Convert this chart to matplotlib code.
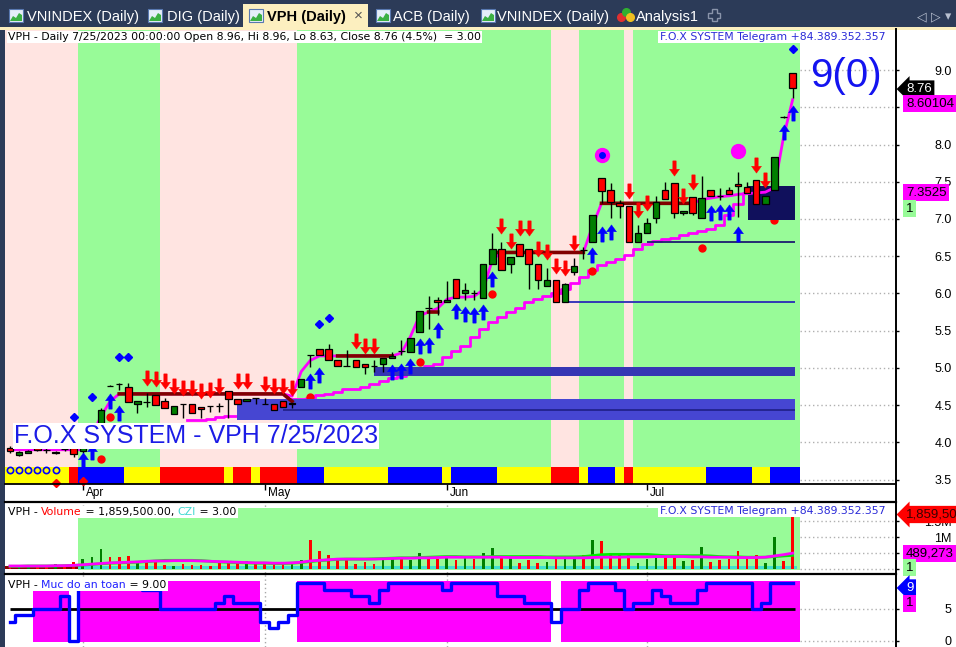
import numpy as np
import matplotlib
matplotlib.use("Agg")
import matplotlib.pyplot as plt
import matplotlib.transforms as mtrans
from matplotlib.patches import Rectangle, Polygon
from matplotlib.lines import Line2D
from matplotlib.path import Path

plt.rcParams["font.family"] = ["Liberation Sans", "DejaVu Sans"]

# ---------------- data ----------------
# one entry per trading session, 22 Mar 2023 .. 25 Jul 2023
opens = [3.92, 3.83, 3.86, 3.92, 3.89, 3.85, 3.91, 3.93, 3.88, 4.02, 4.22, 4.76, 4.78, 4.74, 4.51,
         4.54, 4.63, 4.55, 4.38, 4.51, 4.51, 4.47, 4.49, 4.49, 4.69, 4.58, 4.55, 4.60, 4.51, 4.52,
         4.56, 4.51, 4.74, 5.17, 5.25, 5.25, 5.10, 5.02, 5.10, 5.05, 5.02, 5.05, 5.13, 5.22, 5.21,
         5.48, 5.80, 5.91, 5.88, 6.20, 6.00, 6.00, 5.94, 6.39, 6.59, 6.39, 6.67, 6.60, 6.39, 6.10,
         6.18, 5.88, 6.29, 6.58, 6.69, 7.55, 7.39, 7.21, 7.17, 6.69, 6.81, 7.01, 7.39, 7.48, 7.08,
         7.29, 7.01, 7.39, 7.31, 7.39, 7.47, 7.43, 7.52, 7.20, 7.39, 8.37, 8.96]
highs = [3.95, 3.88, 3.90, 3.95, 3.92, 3.88, 3.94, 3.94, 4.02, 4.25, 4.46, 4.77, 4.80, 4.80, 4.55,
         4.66, 4.63, 4.59, 4.49, 4.51, 4.51, 4.47, 4.49, 4.53, 4.69, 4.58, 4.58, 4.60, 4.59, 4.52,
         4.56, 4.53, 4.85, 5.17, 5.25, 5.32, 5.10, 5.24, 5.10, 5.05, 5.10, 5.13, 5.21, 5.38, 5.40,
         5.77, 5.96, 5.95, 6.17, 6.20, 6.14, 6.04, 6.39, 6.81, 6.69, 6.49, 6.67, 6.60, 6.39, 6.34,
         6.18, 6.14, 6.47, 6.62, 7.05, 7.55, 7.48, 7.25, 7.17, 6.92, 7.01, 7.31, 7.49, 7.48, 7.11,
         7.29, 7.58, 7.39, 7.42, 7.43, 7.63, 7.49, 7.52, 7.31, 7.83, 8.38, 8.96]
lows = [3.85, 3.82, 3.85, 3.88, 3.86, 3.84, 3.88, 3.80, 3.86, 4.00, 4.20, 4.75, 4.70, 4.54, 4.39,
        4.47, 4.50, 4.46, 4.38, 4.33, 4.39, 4.33, 4.41, 4.41, 4.33, 4.51, 4.55, 4.52, 4.51, 4.43,
        4.47, 4.46, 4.74, 5.01, 5.17, 5.10, 5.02, 5.02, 5.01, 4.92, 4.94, 4.94, 5.13, 5.17, 5.21,
        5.48, 5.52, 5.71, 5.88, 5.94, 5.91, 5.91, 5.94, 6.39, 6.31, 6.27, 6.50, 6.06, 6.06, 6.10,
        5.88, 5.88, 6.25, 6.46, 6.69, 7.21, 7.01, 7.01, 6.69, 6.69, 6.81, 6.94, 7.27, 7.01, 7.05,
        7.05, 7.01, 7.31, 7.25, 7.33, 7.03, 7.35, 7.20, 7.20, 7.39, 8.36, 8.63]
closes = [3.88, 3.87, 3.88, 3.90, 3.89, 3.87, 3.91, 3.84, 3.99, 4.22, 4.44, 4.76, 4.78, 4.54, 4.55,
          4.54, 4.50, 4.46, 4.49, 4.51, 4.39, 4.45, 4.49, 4.49, 4.58, 4.51, 4.58, 4.60, 4.51, 4.43,
          4.47, 4.53, 4.85, 5.17, 5.17, 5.10, 5.02, 5.02, 5.01, 5.01, 5.02, 5.13, 5.16, 5.22, 5.40,
          5.77, 5.80, 5.88, 5.91, 5.94, 6.04, 6.00, 6.39, 6.59, 6.31, 6.49, 6.50, 6.39, 6.18, 6.18,
          5.88, 6.12, 6.37, 6.58, 7.05, 7.38, 7.23, 7.17, 6.69, 6.81, 6.94, 7.23, 7.27, 7.08, 7.11,
          7.08, 7.28, 7.31, 7.31, 7.33, 7.44, 7.35, 7.20, 7.31, 7.83, 8.37, 8.76]
volume_m = [0.06, 0.05, 0.07, 0.05, 0.06, 0.14, 0.08, 0.20,
            0.30, 0.37, 0.62, 0.36, 0.36, 0.40, 0.24, 0.22, 0.25,
            0.11, 0.08, 0.14, 0.11, 0.10, 0.08, 0.16, 0.21, 0.21, 0.24, 0.21,
            0.16, 0.16, 0.16, 0.21,
            0.27, 0.91, 0.56, 0.43, 0.30, 0.27, 0.15, 0.20, 0.15, 0.30,
            0.30, 0.30, 0.26, 0.50, 0.40, 0.30, 0.36, 0.28, 0.36, 0.30, 0.49, 0.65,
            0.36, 0.33, 0.17, 0.27, 0.17, 0.20,
            0.37, 0.33, 0.30, 0.43, 0.91, 0.88, 0.48, 0.43, 0.48,
            0.17, 0.30, 0.33, 0.38, 0.44, 0.24, 0.27, 0.69,
            0.21, 0.27, 0.30, 0.56, 0.38, 0.44, 0.19, 1.00, 0.23, 1.8595]
vol_ma_green = [0.07, 0.07, 0.08, 0.08, 0.08, 0.08, 0.09, 0.10, 0.11, 0.13, 0.15, 0.17, 0.18, 0.19,
                0.20, 0.22, 0.24, 0.26, 0.26, 0.26, 0.26, 0.25, 0.23, 0.21, 0.20, 0.19, 0.18, 0.17,
                0.17, 0.16, 0.16, 0.17, 0.19, 0.22, 0.25, 0.27, 0.29, 0.30, 0.30, 0.30, 0.31, 0.32,
                0.33, 0.34, 0.34, 0.35, 0.36, 0.37, 0.38, 0.38, 0.37, 0.37, 0.37, 0.38, 0.38, 0.38,
                0.38, 0.38, 0.38, 0.37, 0.37, 0.37, 0.37, 0.38, 0.41, 0.44, 0.45, 0.45, 0.45, 0.45,
                0.45, 0.43, 0.41, 0.41, 0.41, 0.41, 0.41, 0.40, 0.38, 0.37, 0.37, 0.36, 0.36, 0.36,
                0.38, 0.40, 0.42]
vol_ma_pink = [0.08, 0.08, 0.08, 0.08, 0.08, 0.09, 0.09, 0.10, 0.12, 0.14, 0.16, 0.18, 0.19, 0.20,
               0.21, 0.23, 0.24, 0.24, 0.25, 0.25, 0.25, 0.24, 0.23, 0.22, 0.21, 0.20, 0.19, 0.18,
               0.18, 0.17, 0.17, 0.18, 0.20, 0.24, 0.26, 0.28, 0.30, 0.30, 0.30, 0.30, 0.30, 0.31,
               0.32, 0.33, 0.33, 0.34, 0.34, 0.35, 0.36, 0.36, 0.36, 0.36, 0.36, 0.36, 0.36, 0.35,
               0.35, 0.35, 0.35, 0.35, 0.34, 0.34, 0.34, 0.34, 0.35, 0.36, 0.36, 0.36, 0.37, 0.37,
               0.37, 0.38, 0.38, 0.38, 0.38, 0.37, 0.37, 0.36, 0.36, 0.36, 0.35, 0.35, 0.35, 0.36,
               0.40, 0.44, 0.489273]

# upper (fast) trailing line, magenta
trail_fast = [3.90, 3.90, 3.90, 3.90, 3.90, 3.90, 3.90, 3.90, 3.90, 4.10, 4.35, 4.55,
              4.65, 4.65, 4.65, 4.65, 4.65, 4.65, 4.65, 4.65, 4.65, 4.65, 4.65, 4.65, 4.65, 4.65,
              4.65, 4.65, 4.65, 4.65, 4.65, 4.62, 4.95, 5.10,
              5.16, 5.16, 5.16, 5.16, 5.16, 5.16, 5.16, 5.16, 5.16,
              5.20, 5.42, 5.70, 5.75, 5.80, 5.92, 5.95, 5.95, 5.96, 6.05, 6.45,
              6.55, 6.55, 6.55, 6.55, 6.55, 6.55, 6.55, 6.55, 6.55, 6.55, 6.90,
              7.21, 7.21, 7.21, 7.21, 7.21, 7.21, 7.21, 7.21, 7.21, 7.21, 7.21,
              7.26, 7.28, 7.30, 7.31, 7.33, 7.34, 7.35, 7.36, 7.42, 8.10, 8.60104]
# lower stepped trailing stop, magenta
trail_stop = [None, None, None, None, None, None, None, None, None, None, None, None, None, None,
              None, None, None, None, None, None,
              4.30, 4.30, 4.31, 4.34, 4.35, 4.36, 4.40, 4.45, 4.50, 4.53, 4.56, 4.58, 4.58, 4.60,
              4.63, 4.65, 4.68, 4.71, 4.72, 4.74, 4.78, 4.82, 4.86, 4.89, 4.93, 4.98, 5.03, 5.05,
              5.15, 5.22, 5.30, 5.42, 5.52, 5.62, 5.68, 5.75, 5.80, 5.88, 5.93, 5.97, 6.00, 6.06,
              6.14, 6.22, 6.32, 6.38, 6.42, 6.46, 6.52, 6.60, 6.67, 6.71, 6.73, 6.75, 6.78, 6.81,
              6.84, 6.87, 6.92, 7.05, 7.20, 7.3525, 7.3525, 7.3525, 7.3525, 7.3525, 7.3525]
# resistance levels, maroon
resist = [None, None, None, None, None, None, None, None, None, None, None, None,
          4.65, 4.65, 4.65, 4.65, 4.65, 4.65, 4.65, 4.65, 4.65, 4.65, 4.65, 4.65, 4.65, 4.65,
          4.65, 4.65, 4.65, 4.65, 4.65, 4.55, None, None, None, None,
          5.16, 5.16, 5.16, 5.16, 5.16, 5.16, 5.16, None, None, None, 5.75, 5.75, None, None,
          None, None, None, 6.55, 6.55, 6.55, 6.55, 6.55, 6.55, 6.55, 6.55, 6.55, 6.55, 6.55,
          None, 7.21, 7.21, 7.21, 7.21, 7.21, 7.21, 7.21, 7.21, 7.21, 7.21, 7.21,
          None, None, None, None, None, None, None, None, None, None, None]

# background regime per bar (P pink, G green) and the colour strip (Y, R, B)
regime = ("PPPPPPPP" "GGGGGGGGG" "PPPPPPPPPPPPPPP" "GGGGGGGGGGGGGGGGGGGGGGGGGGGG"
          "PPP" "GGGGG" "P" "GGGGGGGGGGGGGGGGGG")
strip = ("YYYYYYY" "R" "BBBBB" "YYYY" "RRRRRRR" "Y" "RR" "Y" "RRRR" "BBB" "YYYYYYY" "BBBBBB"
         "Y" "BBBBB" "YYYYYY" "RRR" "Y" "BBB" "Y" "R" "YYYYYYYY" "BBBBB" "YY" "BBB")

# signals
buy_bars = [8, 9, 11, 12, 33, 34, 42, 43, 44, 45, 46, 47, 49, 50, 51, 52, 53, 64, 65, 66,
            77, 78, 79, 80, 85, 86]
buy_y = [3.76, 3.87, 4.55, 4.39, 4.82, 4.90, 4.94, 4.96, 5.03, 5.29, 5.31, 5.51, 5.76, 5.72,
         5.71, 5.75, 6.20, 6.51, 6.80, 6.82, 7.08, 7.10, 7.10, 6.80, 8.17, 8.42]
sell_bars = [15, 16, 17, 18, 19, 20, 21, 22, 23, 25, 26, 28, 29, 30, 31, 38, 39, 40, 54, 55,
             56, 57, 58, 59, 60, 61, 62, 68, 69, 70, 73, 74, 75, 82, 83]
sell_y = [4.87, 4.85, 4.82, 4.76, 4.73, 4.73, 4.69, 4.70, 4.76, 4.82, 4.82, 4.78, 4.75, 4.76,
          4.73, 5.36, 5.29, 5.29, 6.90, 6.70, 6.88, 6.88, 6.59, 6.56, 6.37, 6.34, 6.68, 7.37,
          7.12, 7.21, 7.68, 7.31, 7.49, 7.72, 7.52]
blue_dia_bars = [7, 9, 12, 13, 34, 35, 86]
blue_dia_y = [4.34, 4.61, 5.15, 5.15, 5.59, 5.67, 9.28]
red_dot_bars = [10, 11, 33, 45, 53, 64, 76, 84]
red_dot_y = [3.78, 4.34, 4.61, 5.08, 5.99, 6.30, 6.61, 6.98]
red_dia_bars = [5, 8]
red_dia_y = [3.46, 3.48]
big_dot_bars = [65, 80]
big_dot_y = [7.86, 7.91]
ring_bars = [0, 1, 2, 3, 4, 5]
ring_y = 3.63

# zones (bar from, bar to, low, high)
zone_x0 = [24.9, 40.0, 81.1]
zone_x1 = [86.3, 86.3, 86.3]
zone_lo = [4.30, 4.89, 6.98]
zone_hi = [4.58, 5.01, 7.44]
zone_col = ["#4646d2", "#3636b4", "#10105c"]
support_level = [4.43, 5.88, 6.69]
support_from = [30, 61, 70]

# safety level panel
safety = [3, 4, 4, 5, 5, 5, 7, 0,
          9, 9, 9, 9, 9, 9, 9, 8, 8,
          5, 5, 5, 5, 5, 5, 6, 7, 6, 6, 6,
          3, 2, 3, 4,
          9, 9, 9, 8, 8, 8, 7, 7, 6, 8,
          9, 9, 9, 9, 9, 9, 8, 9, 9, 9, 9, 9,
          7, 7, 7, 6, 6, 6,
          3, 5, 5, 8, 9, 9, 9, 8, 5,
          6, 6, 8, 7, 6, 6, 6, 8,
          9, 9, 9, 9, 9, 5, 6, 9, 9, 9]
safe_from = [3, 8, 32, 61]
safe_to = [6, 27, 59, 86]
safe_top = [8.0, 9.4, 9.4, 9.4]

month_pos = [8, 28, 48, 70]
month_names = ["Apr", "May", "Jun", "Jul"]

# ---------------- layout ----------------
W, H = 956, 647
fig = plt.figure(figsize=(W / 100, H / 100), dpi=100)
renderer = fig.canvas.get_renderer()
NAVY = "#2c3b58"
TITLE_FONT = dict(family="DejaVu Sans", fontsize=7.8)


def fx(xp):
    return xp / W


def fy(yp):
    return 1 - yp / H


def fbox(x0, y0, x1, y1, **kw):
    fig.add_artist(Rectangle((fx(x0), fy(y1)), (x1 - x0) / W, (y1 - y0) / H,
                             transform=fig.transFigure, **kw))


def fline(xs, ys, **kw):
    fig.add_artist(Line2D([fx(v) for v in xs], [fy(v) for v in ys], transform=fig.transFigure, **kw))


def panel(y0, y1):
    ax = fig.add_axes([fx(5), fy(y1), 890 / W, (y1 - y0) / H])
    for sp in ax.spines.values():
        sp.set_visible(False)
    ax.set_xlim(-0.55, 97.25)
    return ax


def runs(seq):
    out, start = [], 0
    for i in range(1, len(seq) + 1):
        if i == len(seq) or seq[i] != seq[start]:
            out.append((start, i - 1, seq[start]))
            start = i
    return out


def color_title(ax, x0, ybase, parts):
    # coloured pieces side by side, with one white box behind them
    xc, boxes = x0, []
    for s, col in parts:
        t = ax.text(fx(xc), fy(ybase), s, transform=fig.transFigure, color=col, va="baseline",
                    zorder=13, **TITLE_FONT)
        bb = t.get_window_extent(renderer=renderer)
        boxes.append(bb)
        xc += bb.width
    bb = mtrans.Bbox.union(boxes).transformed(fig.transFigure.inverted())
    ax.add_patch(Rectangle((bb.x0 - 1.5 / W, bb.y0 - 1 / H), bb.width + 3 / W, bb.height + 2 / H,
                           transform=fig.transFigure, fc="white", ec="none", zorder=12, clip_on=False))


x = np.arange(len(closes))
last = len(closes) - 1
o, hi, lo, c = (np.array(v) for v in (opens, highs, lows, closes))
is_up = c > o
candle_col = np.where(is_up, "#008000", "#ff0000")


def edge(s, e):
    return s - 0.5, (e + 0.8 if e == last else e + 0.5)


def right_axis(ax, ticks, labels):
    ax.set_yticks(ticks)
    ax.set_yticklabels(labels)
    ax.yaxis.tick_right()
    ax.tick_params(axis="y", length=2.9, width=1, pad=38, labelsize=9)
    plt.setp(ax.get_yticklabels(), ha="right")
    ax.hlines(ticks, last + 0.8, 97.25, colors="#b0b0b0", linestyles=(0, (1, 2)), lw=1, zorder=0.1)


def tag(ax, yv, s, fc, tc="black", arrow=False):
    tr = mtrans.blended_transform_factory(ax.transAxes, ax.transData)
    style = "larrow,pad=0.2" if arrow else "square,pad=0.2"
    ax.text(901 / 890, yv, s, transform=tr, ha="left", va="center", fontsize=9.5, color=tc,
            bbox=dict(boxstyle=style, fc=fc, ec="none"), clip_on=False, zorder=10)


WBOX = dict(boxstyle="square,pad=0.12", fc="white", ec="none")

# ---------------- price panel ----------------
ax = panel(30, 484)
ax.set_ylim(3.44, 9.538)
strip_top = 3.668
bg = {"P": "#ffe4e1", "G": "#98fb98"}
sc = {"Y": "#ffff00", "R": "#ff0000", "B": "#0000ff"}
for s, e, k in runs(regime):
    a, b = edge(s, e)
    ax.add_patch(Rectangle((a, strip_top), b - a, 10, fc=bg[k], ec="none", zorder=0.2))
for s, e, k in runs(strip):
    a, b = edge(s, e)
    ax.add_patch(Rectangle((a, 3.3), b - a, strip_top - 3.3, fc=sc[k], ec="none", zorder=0.3))
ax.plot(ring_bars, [ring_y] * len(ring_bars), ls="none", marker="o", ms=4.5, mfc="none",
        mec="#0000ff", mew=1.2, zorder=4)

stop = np.array(trail_stop, dtype=float)
ax.plot(x, stop, drawstyle="steps-mid", color="#ff00ff", lw=2, zorder=1.4)
ax.plot(red_dot_bars, red_dot_y, ls="none", marker="o", ms=5, color="#ff0000", zorder=1.5)
for i in range(len(zone_lo)):
    ax.add_patch(Rectangle((zone_x0[i], zone_lo[i]), zone_x1[i] - zone_x0[i], zone_hi[i] - zone_lo[i],
                           fc=zone_col[i], ec="none", zorder=1.6))
ax.hlines(support_level, support_from, 86.3, colors=["#22228c", "#2a2ab8", "#1c1c70"], lw=1.3, zorder=1.7)
ax.plot(x, trail_fast, color="#ff00ff", lw=2, zorder=1.8)
ax.plot(x, np.array(resist, dtype=float), color="#800000", lw=2.6, zorder=1.9)

ax.vlines(x, lo, hi, colors="black", lw=1, zorder=3)
ax.bar(x, np.abs(c - o), bottom=np.minimum(o, c), width=0.72, color=candle_col,
       edgecolor="black", linewidth=0.9, zorder=3.1)

up_arrow = Path([(0, 1), (0.65, 0.1), (0.22, 0.1), (0.22, -1), (-0.22, -1), (-0.22, 0.1),
                 (-0.65, 0.1), (0, 1)], closed=True)
down_arrow = Path([(vx, -vy) for vx, vy in up_arrow.vertices], closed=True)
ax.plot(buy_bars, buy_y, ls="none", marker=up_arrow, ms=11, color="#0000ff", mew=0.3, zorder=4)
ax.plot(sell_bars, sell_y, ls="none", marker=down_arrow, ms=11, color="#ff0000", mew=0.3, zorder=4)
ax.plot(blue_dia_bars, blue_dia_y, ls="none", marker="D", ms=4.5, color="#0000ff", zorder=4)
ax.plot(red_dia_bars, red_dia_y, ls="none", marker="D", ms=4.5, color="#ff0000", zorder=4,
        clip_on=False)
ax.plot(big_dot_bars, big_dot_y, ls="none", marker="o", ms=10, color="#ff00ff", zorder=4)
ax.plot(big_dot_bars[:1], big_dot_y[:1], ls="none", marker="o", ms=4, color="#0000ff", zorder=4.1)

price_ticks = np.arange(3.5, 9.01, 0.5)
# the 8.5 label sits behind the value tags in the original, so it is left blank
right_axis(ax, price_ticks, ["" if abs(v - 8.5) < 1e-9 else "%.1f" % v for v in price_ticks])
ax.set_xticks(month_pos)
ax.tick_params(axis="x", length=4, width=1, labelbottom=False)
xtr = mtrans.blended_transform_factory(ax.transData, ax.transAxes)
for p, name in zip(month_pos, month_names):
    ax.text(p + 0.3, -0.007, name, transform=xtr, ha="left", va="top", fontsize=8.5)

tag(ax, 8.745, "8.76", "black", "white", arrow=True)
tag(ax, 8.55, "8.60104", "#ff00ff")
tag(ax, 7.3525, "7.3525", "#ff00ff")
tag(ax, 7.14, "1", "#98fb98")

ax.text(fx(8), fy(40), "VPH - Daily 7/25/2023 00:00:00 Open 8.96, Hi 8.96, Lo 8.63, Close 8.76 (4.5%)  = 3.00",
        transform=fig.transFigure, va="baseline", bbox=WBOX, zorder=12, **TITLE_FONT)
ax.text(fx(885), fy(40), "F.O.X SYSTEM Telegram +84.389.352.357", transform=fig.transFigure,
        ha="right", va="baseline", color="#2a2ad8", bbox=WBOX, zorder=12, **TITLE_FONT)
ax.text(fx(810), fy(87), "9(0)", transform=fig.transFigure, fontsize=29, va="baseline",
        color="#1414f0", zorder=12)
ax.text(fx(14), fy(443), "F.O.X SYSTEM - VPH 7/25/2023", transform=fig.transFigure, fontsize=18,
        va="baseline", color="#1c1ce6", bbox=dict(boxstyle="square,pad=0.05", fc="white", ec="none"),
        zorder=12)

# ---------------- volume panel ----------------
av = panel(502, 573)
av.set_ylim(-0.143, 2.118)
av.add_patch(Rectangle((7.5, -0.05), 86.8 - 7.5, 1.98, fc="#98fb98", ec="none", zorder=0.2))
av.bar(x, 0.09, width=1.0, color=["#8b0000"] * 8 + ["#40e0d0"] * (last - 7), lw=0, zorder=1)
av.bar(x, volume_m, width=0.3, color=candle_col, lw=0, zorder=2)
av.plot(x, vol_ma_green, color="#00ee00", lw=2, zorder=3)
av.plot(x, vol_ma_pink, color="#ff00ff", lw=2, zorder=3.1)
right_axis(av, [0, 0.5, 1.0, 1.5], ["", "", "1M", "1.5M"])
av.set_xticks([])
tag(av, 1.72, "1,859,500", "#ff0000", "#3a0000", arrow=True)
tag(av, 0.478, "489,273", "#ff00ff")
tag(av, 0.03, "1", "#98fb98")

color_title(av, 8, 515, [("VPH - ", "black"), ("Volume", "#ff0000"), (" = 1,859,500.00, ", "black"),
                         ("CZI", "#40d8d0"), (" = 3.00", "black")])
av.text(fx(885), fy(514), "F.O.X SYSTEM Telegram +84.389.352.357", transform=fig.transFigure,
        ha="right", va="baseline", color="#2a2ad8", bbox=WBOX, zorder=12, **TITLE_FONT)

# ---------------- safety level panel ----------------
asf = panel(574, 647)
asf.set_ylim(-0.94, 10.45)
for s, e, t in zip(safe_from, safe_to, safe_top):
    a, b = edge(s, e)
    asf.add_patch(Rectangle((a, -0.1), b - a, t + 0.1, fc="#ff00ff", ec="none", zorder=0.5))
asf.hlines(5, 0, 86.3, colors="black", lw=2, zorder=2)
asf.plot(x, safety, drawstyle="steps-mid", color="#0000ff", lw=2.4, zorder=3)
right_axis(asf, [0, 5], ["0", "5"])
asf.set_xticks([])
tag(asf, 8.27, "9", "#0000ff", "white", arrow=True)
tag(asf, 5.85, "1", "#ff00ff")
color_title(asf, 8, 588, [("VPH - ", "black"), ("Muc do an toan", "#2020ff"), (" = 9.00", "black")])

for a_ in (av, asf):
    for p in month_pos:
        a_.axvline(p, color="#a8a8a8", ls=(0, (1, 2)), lw=1, zorder=0.05)

# ---------------- frame lines ----------------
fline([895.5, 895.5], [29, 647], color="black", lw=1.4)
fline([5, 895.5], [484, 484], color="black", lw=1.3)
fline([5, 895.5], [501.5, 501.5], color="black", lw=1.6)
fline([5, 895.5], [574, 574], color="black", lw=1.6)

# ---------------- window chrome (tab bar) ----------------
fbox(0, 0, W, 28, fc=NAVY, ec="none")
fbox(0, 28, 5, H, fc=NAVY, ec="none")
fbox(0, 27, W, 30, fc="#fcefbf", ec="none")
fbox(243, 4, 368, 28, fc="#fcefbf", ec="none")


def chart_icon(x0):
    fbox(x0, 9, x0 + 14, 22, fc="#e6eef9", ec="#5878b0", lw=0.8)
    fig.add_artist(Polygon([(fx(x0 + 1), fy(21)), (fx(x0 + 4), fy(16)), (fx(x0 + 7), fy(18)),
                            (fx(x0 + 10), fy(13)), (fx(x0 + 13), fy(15)), (fx(x0 + 13), fy(21))],
                           closed=True, transform=fig.transFigure, fc="#3cb043", ec="none"))


for xi in (9, 148, 249, 376, 481):
    chart_icon(xi)
for tx, s in [(27, "VNINDEX (Daily)"), (167, "DIG (Daily)"), (393, "ACB (Daily)"),
              (497, "VNINDEX (Daily)"), (636, "Analysis1")]:
    fig.text(fx(tx), fy(20.5), s, fontsize=10.5, color="white", va="baseline")
fig.text(fx(267), fy(20.5), "VPH (Daily)", fontsize=10.5, color="black", weight="bold", va="baseline")
fig.text(fx(354), fy(20), "×", fontsize=11, color="#555555", va="baseline")
for cx, cy, col in [(621, 17, "#e03030"), (626, 12, "#30b030"), (630, 17, "#f0c020")]:
    fig.add_artist(Line2D([fx(cx)], [fy(cy)], marker="o", ms=5.5, color=col, transform=fig.transFigure))
cross = [(711.5, 9), (716.5, 9), (716.5, 12.5), (720, 12.5), (720, 17.5), (716.5, 17.5),
         (716.5, 21), (711.5, 21), (711.5, 17.5), (708, 17.5), (708, 12.5), (711.5, 12.5)]
fig.add_artist(Polygon([(fx(a), fy(b)) for a, b in cross], closed=True, transform=fig.transFigure,
                       fc="none", ec="#8a94aa", lw=1))
for tx, s in [(917, "◁"), (931, "▷"), (945, "▾")]:
    fig.text(fx(tx), fy(20), s, fontsize=9, color="#b8c0d0", va="baseline")

fig.savefig("out.png", dpi=100)
